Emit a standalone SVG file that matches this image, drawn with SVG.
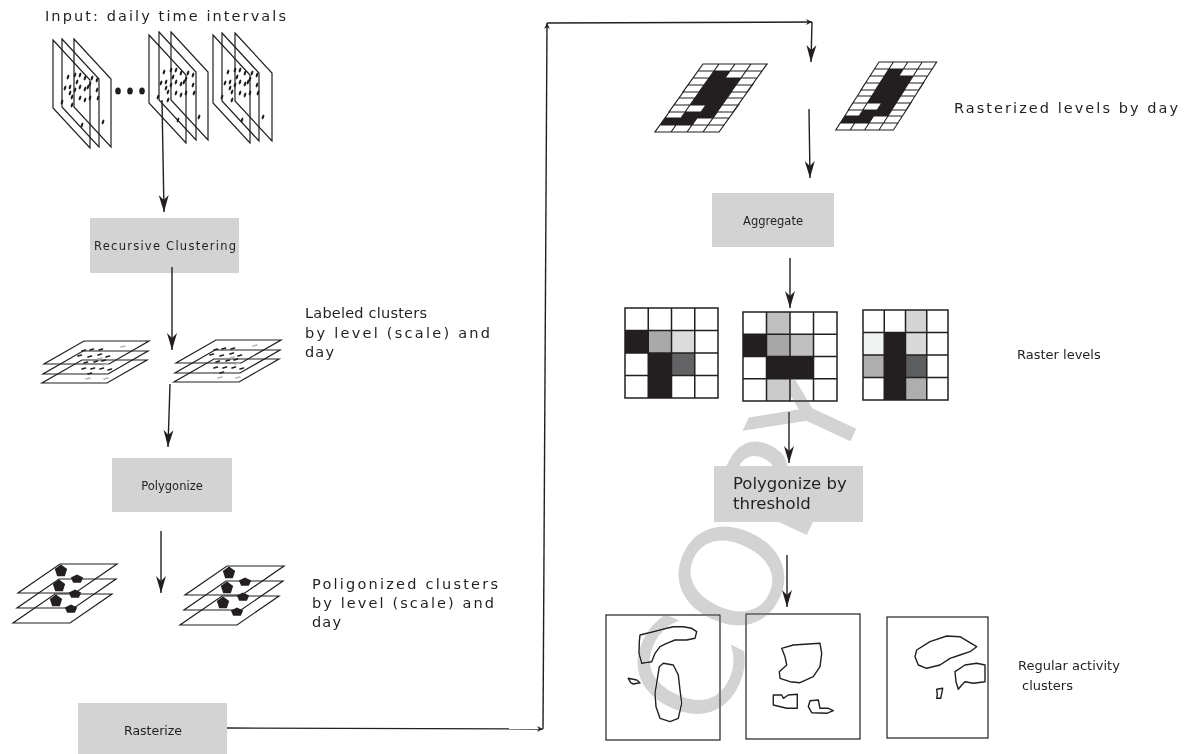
<svg xmlns="http://www.w3.org/2000/svg" width="1196" height="754" viewBox="0 0 1196 754">
<defs>
<style>
 .t{font-family:"DejaVu Sans","Liberation Sans",sans-serif;fill:#231f20}
 .lbl{font-size:14.5px}
 .lbl2{font-size:13px}
 .bt{font-size:11.5px;text-anchor:middle}
 .box{fill:#d3d3d3}
 .ln{fill:none;stroke:#231f20;stroke-width:1.2}
 .con{fill:none;stroke:#231f20;stroke-width:1.4}
 .arr{marker-end:url(#ah)}
 .sm{marker-end:url(#as)}
 .gl{fill:none;stroke:#231f20;stroke-width:1.5}
 .blob{fill:none;stroke:#231f20;stroke-width:1.4;stroke-linejoin:round}
 .dk{fill:none;stroke:#231f20;stroke-width:1.6;stroke-linecap:round}
 .lg{fill:none;stroke:#b5b5b5;stroke-width:1.6;stroke-linecap:round}
 .rbase{fill:#fff}
 .rblk{fill:#231f20}
 .wm{font-family:"DejaVu Sans",sans-serif;font-size:140px;fill:#d3d3d3;mix-blend-mode:darken}
</style>
<marker id="ah" viewBox="-18 -6 19 12" refX="0" refY="0" markerWidth="19" markerHeight="12" markerUnits="userSpaceOnUse" orient="auto">
 <path d="M0,0 L-17,-5 L-12,0 L-17,5 Z" fill="#231f20"/>
</marker>
<marker id="as" viewBox="-7 -4 8 8" refX="0" refY="0" markerWidth="8" markerHeight="8" markerUnits="userSpaceOnUse" orient="auto">
 <path d="M0,0 L-6,-3 L-4,0 L-6,3 Z" fill="#231f20"/>
</marker>
<!-- side-on time slice -->
<path id="vplane" class="ln" d="M0,0 L37,40 L37,108 L0,68 Z"/>
<!-- one point event -->
<ellipse id="pt" rx="1.1" ry="2.5" fill="#231f20" transform="rotate(20)"/>
<g id="dots">
 <use href="#pt" x="15" y="37"/><use href="#pt" x="22" y="35"/><use href="#pt" x="27" y="35"/>
 <use href="#pt" x="32" y="38"/><use href="#pt" x="39" y="38"/><use href="#pt" x="44" y="40"/>
 <use href="#pt" x="12" y="48"/><use href="#pt" x="17" y="47"/><use href="#pt" x="22" y="50"/>
 <use href="#pt" x="27" y="47"/><use href="#pt" x="32" y="49"/><use href="#pt" x="35" y="47"/>
 <use href="#pt" x="44" y="50"/><use href="#pt" x="19" y="57"/><use href="#pt" x="27" y="58"/>
 <use href="#pt" x="32" y="60"/><use href="#pt" x="37" y="58"/><use href="#pt" x="9" y="62"/>
 <use href="#pt" x="19" y="65"/><use href="#pt" x="29" y="85"/><use href="#pt" x="50" y="82"/>
 <use href="#pt" x="45" y="58"/><use href="#pt" x="24" y="42"/><use href="#pt" x="37" y="44"/>
 <use href="#pt" x="17" y="53"/>
</g>
<!-- flat labelled level -->
<path id="lplane" class="ln" d="M0,0 L65,0 L25,23 L-40,23 Z"/>
<g id="ldash">
 <path class="dk" d="M82,351 l3.5,-1 M90,350 l3.5,-1 M99,350 l3.5,-1 M78,356 l3.5,-1 M88,357 l3.5,-1 M98,355 l3.5,-1 M106,357 l3.5,-1 M84,363 l3.5,-1 M94,362 l3.5,-1 M102,361 l3.5,-1 M82,369 l3.5,-1 M91,369 l3.5,-1 M100,369 l3.5,-1 M108,370 l3.5,-1 M88,374 l3.5,-1"/>
 <path class="lg" d="M121,347 l4,-1 M98,359 l4,-1 M103,365 l4,-1 M104,379 l4,-1 M86,379 l4,-1"/>
</g>
<!-- polygonized level -->
<path id="pplane" class="ln" d="M0,0 L57,0 L15,29 L-42,29 Z"/>
<path id="pg" d="M0,-1 L0.951,-0.309 L0.588,0.809 L-0.588,0.809 L-0.951,-0.309 Z" fill="#231f20"/>
<!-- rasterized level: 4 x 4 skewed cells -->
<path id="rbase" class="rbase" d="M0,0 L64,0 L44,28 L-20,28 Z"/>
<path id="rgrid" class="ln" d="M0,0 L64,0 L44,28 L-20,28 Z M-5,7 L59,7 M-10,14 L54,14 M-15,21 L49,21 M16,0 L-4,28 M32,0 L12,28 M48,0 L28,28"/>
<g id="rl-top">
 <use href="#rbase"/>
 <path class="rblk" d="M11,7 L27,7 L22,14 L38,14 L28,28 L-4,28 Z"/>
 <use href="#rgrid"/>
</g>
<g id="rl-mid">
 <use href="#rbase"/>
 <path class="rblk" d="M16,0 L48,0 L28,28 L12,28 L17,21 L1,21 Z"/>
 <use href="#rgrid"/>
</g>
<g id="rl-low">
 <use href="#rbase"/>
 <path class="rblk" d="M16,0 L48,0 L38,14 L22,14 L17,21 L-15,21 L-10,14 L6,14 Z"/>
 <use href="#rgrid"/>
</g>
<g id="rstack">
 <use href="#rl-low" x="-28" y="40"/><use href="#rl-mid" x="-14" y="20"/><use href="#rl-top"/>
</g>
</defs>

<rect width="1196" height="754" fill="#fff"/>

<!-- daily input slices -->
<g id="input-slices">
 <use href="#vplane" x="53" y="40"/><use href="#vplane" x="62" y="39"/><use href="#vplane" x="74" y="39"/>
 <use href="#dots" transform="translate(53,40)"/>
 <ellipse cx="118" cy="91" rx="2.8" ry="3.5" fill="#231f20"/>
 <ellipse cx="130" cy="91" rx="2.8" ry="3.5" fill="#231f20"/>
 <ellipse cx="142" cy="91" rx="2.8" ry="3.5" fill="#231f20"/>
 <use href="#vplane" x="149" y="35"/><use href="#vplane" x="159" y="32"/><use href="#vplane" x="171" y="32"/>
 <use href="#dots" transform="translate(149,35)"/>
 <use href="#vplane" x="213" y="35"/><use href="#vplane" x="222" y="33"/><use href="#vplane" x="235" y="33"/>
 <use href="#dots" transform="translate(213,35)"/>
 <text class="t" x="45" y="21" font-size="14.5" textLength="241" lengthAdjust="spacing">Input: daily time intervals</text>
</g>

<g id="recursive-clustering">
 <rect class="box" x="90" y="218" width="149" height="55"/>
 <text class="t bt" x="165" y="250" textLength="142" lengthAdjust="spacing">Recursive Clustering</text>
</g>

<g id="labeled-clusters">
 <use href="#lplane" x="84" y="341"/><use href="#lplane" x="83" y="351"/><use href="#lplane" x="82" y="360"/>
 <use href="#ldash"/>
 <use href="#lplane" x="216" y="340"/><use href="#lplane" x="215" y="350"/><use href="#lplane" x="214" y="359"/>
 <use href="#ldash" transform="translate(132,-1)"/>
 <text class="t lbl" x="305" y="318" textLength="122" lengthAdjust="spacing">Labeled clusters</text>
 <text class="t lbl" x="305" y="338" textLength="185" lengthAdjust="spacing">by level (scale) and</text>
 <text class="t lbl" x="305" y="357" textLength="29" lengthAdjust="spacing">day</text>
</g>

<g id="polygonize">
 <rect class="box" x="112" y="458" width="120" height="54"/>
 <text class="t bt" x="172" y="490">Polygonize</text>
</g>

<g id="polygonized-clusters">
 <use href="#pplane" x="60" y="564"/><use href="#pplane" x="59" y="579"/><use href="#pplane" x="55" y="594"/>
 <use href="#pg" transform="translate(61,571) scale(6.5)"/>
 <use href="#pg" transform="translate(77,579) scale(6.5,4.5)"/>
 <use href="#pg" transform="translate(59,586) scale(6.5)"/>
 <use href="#pg" transform="translate(75,594) scale(6.5,4.5)"/>
 <use href="#pg" transform="translate(56,601) scale(6.5)"/>
 <use href="#pg" transform="translate(71,609) scale(6.5,4.5)"/>
 <use href="#pplane" x="227" y="566"/><use href="#pplane" x="226" y="581"/><use href="#pplane" x="222" y="596"/>
 <use href="#pg" transform="translate(229,573) scale(6.5)"/>
 <use href="#pg" transform="translate(245,582) scale(6.5,4.5)"/>
 <use href="#pg" transform="translate(227,588) scale(6.5)"/>
 <use href="#pg" transform="translate(243,597) scale(6.5,4.5)"/>
 <use href="#pg" transform="translate(223,603) scale(6.5)"/>
 <use href="#pg" transform="translate(237,612) scale(6.5,4.5)"/>
 <text class="t lbl" x="312" y="589" textLength="186" lengthAdjust="spacing">Poligonized clusters</text>
 <text class="t lbl" x="312" y="608" textLength="182" lengthAdjust="spacing">by level (scale) and</text>
 <text class="t lbl" x="312" y="627" textLength="29" lengthAdjust="spacing">day</text>
</g>

<g id="rasterize">
 <rect class="box" x="78" y="703" width="149" height="51"/>
 <text class="t" x="153" y="735" font-size="12.5" text-anchor="middle">Rasterize</text>
</g>

<g id="rasterized-levels">
 <use href="#rstack" transform="translate(703,64)"/>
 <use href="#rstack" transform="translate(879,62) scale(0.9,1)"/>
 <text class="t" x="954" y="113" font-size="14.5" textLength="224" lengthAdjust="spacing">Rasterized levels by day</text>
</g>

<g id="aggregate">
 <rect class="box" x="712" y="193" width="122" height="54"/>
 <text class="t bt" x="773" y="225">Aggregate</text>
</g>

<g id="raster-levels">
 <g id="grid-a">
  <rect x="625" y="330.5" width="23.25" height="22.5" fill="#231f20"/>
  <rect x="648.25" y="330.5" width="23.25" height="22.5" fill="#a9a9a9"/>
  <rect x="671.5" y="330.5" width="23.25" height="22.5" fill="#dcdcdc"/>
  <rect x="648.25" y="353" width="23.25" height="45" fill="#231f20"/>
  <rect x="671.5" y="353" width="23.25" height="22.5" fill="#636365"/>
  <path class="gl" d="M625,308 h93 v90 h-93 Z M648.25,308 v90 M671.5,308 v90 M694.75,308 v90 M625,330.5 h93 M625,353 h93 M625,375.5 h93"/>
 </g>
 <g id="grid-b">
  <rect x="766.5" y="312" width="23.5" height="22.25" fill="#c0c0c0"/>
  <rect x="743" y="334.25" width="23.5" height="22.25" fill="#231f20"/>
  <rect x="766.5" y="334.25" width="23.5" height="22.25" fill="#a7a7a7"/>
  <rect x="790" y="334.25" width="23.5" height="22.25" fill="#c0c0c0"/>
  <rect x="766.5" y="356.5" width="47" height="22.25" fill="#231f20"/>
  <rect x="766.5" y="378.75" width="23.5" height="22.25" fill="#cbcbcb"/>
  <path class="gl" d="M743,312 h94 v89 h-94 Z M766.5,312 v89 M790,312 v89 M813.5,312 v89 M743,334.25 h94 M743,356.5 h94 M743,378.75 h94"/>
 </g>
 <g id="grid-c">
  <rect x="905.5" y="310" width="21.25" height="22.5" fill="#d4d4d4"/>
  <rect x="863" y="332.5" width="21.25" height="22.5" fill="#f1f2f2"/>
  <rect x="884.25" y="332.5" width="21.25" height="67.5" fill="#231f20"/>
  <rect x="905.5" y="332.5" width="21.25" height="22.5" fill="#d9d9d9"/>
  <rect x="863" y="355" width="21.25" height="22.5" fill="#aeaeae"/>
  <rect x="905.5" y="355" width="21.25" height="22.5" fill="#5d5e60"/>
  <rect x="905.5" y="377.5" width="21.25" height="22.5" fill="#aeaeae"/>
  <path class="gl" d="M863,310 h85 v90 h-85 Z M884.25,310 v90 M905.5,310 v90 M926.75,310 v90 M863,332.5 h85 M863,355 h85 M863,377.5 h85"/>
 </g>
 <text class="t lbl2" x="1017" y="359">Raster levels</text>
</g>

<g id="polygonize-threshold">
 <rect class="box" x="714" y="466" width="149" height="56"/>
 <text class="t" x="733" y="489" font-size="16.5">Polygonize by</text>
 <text class="t" x="733" y="509" font-size="16.5">threshold</text>
</g>

<g id="activity-clusters">
 <rect class="ln" x="606" y="615" width="114" height="125"/>
 <path class="blob" d="M640,635 L653.3,631.7 L666.7,628.3 L673.3,626.7 L683.3,626.7 L691.7,628.3 L696.7,631.7 L695,638.3 L686.7,640 L675,640 L666.7,643.3 L660,646.7 L655,653.3 L651.7,661.7 L641.7,663.3 L639,653.3 L639.3,641.7 Z"/>
 <path class="blob" d="M663.3,663.3 L673.3,665 L678.3,675 L680,690 L681.7,703.3 L678.3,718.3 L670,721.7 L660,718.3 L656,706.7 L655,693.3 L657.7,676.7 L659.3,666.7 Z"/>
 <path class="blob" d="M628.3,678.3 L636.7,680 L640,682.7 L633.3,684 L630.7,682.7 Z"/>
 <rect class="ln" x="746" y="614" width="114" height="125"/>
 <path class="blob" d="M781.7,648.3 L793.3,645 L808.3,644 L820,643.3 L821.7,653.3 L820,666.7 L813.3,676.7 L800,682.7 L790,681.7 L780,678.3 L779.3,671.7 L786.7,665 L785,656.7 Z"/>
 <path class="blob" d="M773.3,695 L781.7,695 L783.3,698.3 L788.3,695 L797.3,694.3 L797.3,708.3 L786.7,708.3 L773.3,705 Z"/>
 <path class="blob" d="M810,700.7 L818.3,700 L820,708.3 L828.3,708.3 L833.3,710.7 L826.7,713.3 L811.7,712.7 L808.3,706.7 Z"/>
 <rect class="ln" x="887" y="617" width="101" height="121"/>
 <path class="blob" d="M916.7,650 L930,641.7 L946.7,636 L960,636.7 L968.3,641.7 L976.7,646.7 L970,651.7 L960,655 L950,658.3 L940,665 L926.7,668.3 L918.3,665 L915,656.7 Z"/>
 <path class="blob" d="M955,671.7 L965,665 L976.7,663.3 L985,665 L985,681.7 L973.3,683.3 L965,681.7 L961.7,685 L958.3,689.3 L956,681.7 Z"/>
 <path class="blob" d="M936.7,689.3 L942.7,688.3 L941.7,693.3 L940.7,698.3 L936.7,698.3 L937.3,694.3 Z"/>
 <text class="t lbl2" x="1018" y="670">Regular activity</text>
 <text class="t lbl2" x="1022" y="690">clusters</text>
</g>

<!-- flow connectors -->
<g id="connectors">
 <path class="con arr" d="M162,100 L164,212"/>
 <path class="con arr" d="M172,267 L172,350"/>
 <path class="con arr" d="M170,384 L168,447"/>
 <path class="con arr" d="M161,531 L161,593"/>
 <path class="con sm" d="M227,728 L543,729"/>
 <path class="con sm" d="M543,729 L547,23"/>
 <path class="con sm" d="M547,23 L812,22"/>
 <path class="con arr" d="M812,22 L811,62"/>
 <path class="con arr" d="M809,109 L810,178"/>
 <path class="con arr" d="M790,258 L790,308"/>
 <path class="con arr" d="M789,412 L789,463"/>
 <path class="con arr" d="M787,555 L787,607"/>
</g>

<g id="watermark">
 <text class="wm" transform="translate(713,736) rotate(-65)">COPY</text>
</g>
</svg>
